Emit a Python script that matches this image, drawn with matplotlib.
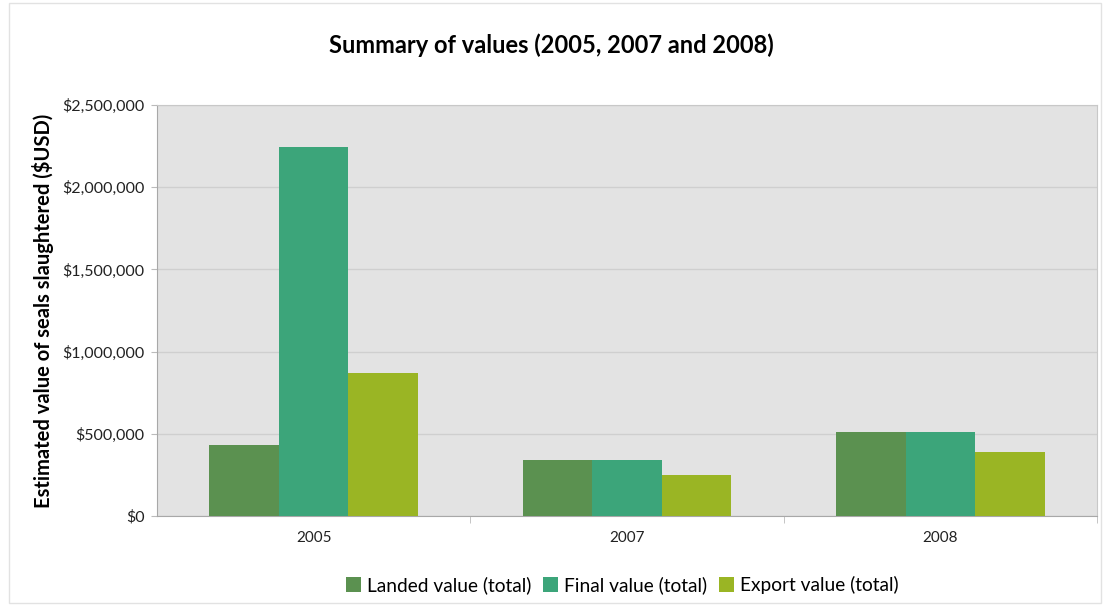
import numpy as np
import matplotlib.pyplot as plt
from matplotlib.patches import Rectangle
from matplotlib.ticker import FuncFormatter, FixedLocator

years = ["2005", "2007", "2008"]
series = ["Landed value (total)", "Final value (total)", "Export value (total)"]
landed = [430000, 342000, 511000]
final = [2243000, 342000, 511000]
export = [868000, 248000, 387000]
colors = ["#5b9150", "#3ca57a", "#9ab524"]

plt.rcParams['font.family'] = ['Lato', 'DejaVu Sans']

fig = plt.figure(figsize=(11.03, 6.06), dpi=100)
fig.patches.append(Rectangle((0.008, 0.005), 0.99, 0.99, transform=fig.transFigure,
                             fill=False, edgecolor="#e2e2e2", linewidth=1))
ax = fig.add_axes([0.1423, 0.1485, 0.8523, 0.6782])
ax.set_facecolor("#e3e3e3")

x = np.arange(len(years))
w = 0.222
for i, (vals, lab) in enumerate(zip([landed, final, export], series)):
    ax.bar(x + (i - 1) * w, vals, w, color=colors[i], label=lab, zorder=3)

ax.set_xlim(-0.5, 2.5)
ax.set_ylim(0, 2500000)
ax.set_yticks(np.arange(0, 2500001, 500000))
ax.yaxis.set_major_formatter(FuncFormatter(lambda v, p: "${:,.0f}".format(v)))
ax.grid(axis="y", color="#cfcfcf", linewidth=1, zorder=0)

ax.set_xticks(x)
ax.set_xticklabels(years)
ax.xaxis.set_minor_locator(FixedLocator([0.5, 1.5, 2.5]))
ax.tick_params(axis="x", which="major", length=0, pad=11, labelsize=11, labelcolor="#222222")
ax.tick_params(axis="x", which="minor", length=5, color="#bbbbbb")
ax.tick_params(axis="y", length=4, color="#bbbbbb", labelsize=11.5, labelcolor="#222222", pad=5)

for s in ["top", "right"]:
    ax.spines[s].set_color("#c8c8c8")
for s in ["left", "bottom"]:
    ax.spines[s].set_color("#a8a8a8")

ax.set_ylabel("Estimated value of seals slaughtered ($USD)", fontsize=14.5, fontweight="bold",
              labelpad=6)
fig.text(0.5, 0.925, "Summary of values (2005, 2007 and 2008)", ha="center", va="center",
         fontsize=17, fontweight="bold")

fig.legend(loc="center", bbox_to_anchor=(0.564, 0.034), ncol=3, frameon=False,
           fontsize=13.8, handlelength=0.8, handleheight=0.8, handletextpad=0.3,
           columnspacing=0.6)

fig.savefig("out.png", dpi=100)
